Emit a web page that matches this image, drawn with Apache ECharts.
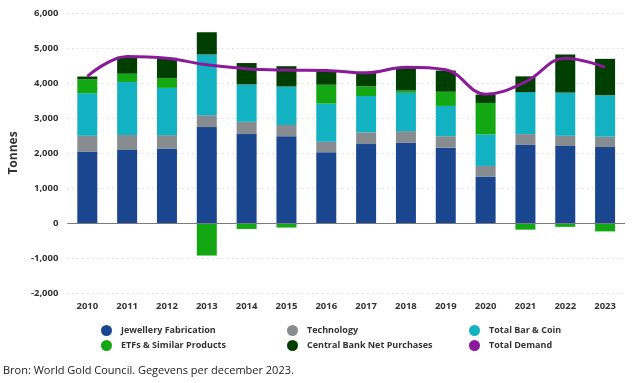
<!DOCTYPE html>
<html><head><meta charset="utf-8">
<script src="https://cdn.jsdelivr.net/npm/echarts@6/dist/echarts.min.js"></script>
<style>html,body{margin:0;padding:0;background:#fff;}#c{width:632px;height:383px;}</style>
</head><body><div id="c"></div>
<script>
const years = ['2010','2011','2012','2013','2014','2015','2016','2017','2018','2019','2020','2021','2022','2023'];
const jewellery = [2040, 2085, 2130, 2740, 2540, 2480, 2020, 2255, 2290, 2150, 1330, 2230, 2200, 2170];
const technology = [455, 430, 380, 340, 350, 320, 300, 333, 335, 330, 300, 310, 295, 295];
const barCoin = [1210, 1515, 1350, 1735, 1070, 1100, 1090, 1040, 1095, 865, 900, 1200, 1230, 1185];
const etfs = [400, 235, 280, -930, -170, -130, 540, 275, 65, 405, 900, -190, -110, -240];
const centralBank = [80, 490, 580, 635, 610, 580, 390, 405, 640, 605, 240, 450, 1090, 1040];
const totalDemand = [4190, 4760, 4710, 4520, 4410, 4370, 4360, 4290, 4450, 4380, 3680, 4030, 4710, 4455];
const yTicks = {min: -2000, max: 6000, interval: 1000};

const font = 'Open Sans';
const chart = echarts.init(document.getElementById('c'), null, {renderer: 'canvas'});
const bar = (name, data, color) => ({
  name, type: 'bar', stack: 'd', data, barWidth: 20,
  itemStyle: {color}, emphasis: {disabled: true}
});
const legendCommon = {
  orient: 'vertical', top: 325, itemWidth: 11, itemHeight: 11, itemGap: 4, padding: 0,
  icon: 'circle', textStyle: {fontFamily: font, fontWeight: 'bold', fontSize: 9, color: '#333', padding: [0,0,0,4]}
};
chart.setOption({
  animation: false,
  textStyle: {fontFamily: font},
  grid: {left: 62, right: 7, top: 13, bottom: 90},
  xAxis: {
    type: 'category', data: years,
    axisLine: {show: false}, axisTick: {show: false},
    axisLabel: {fontFamily: font, fontWeight: 'bold', fontSize: 9.5, color: '#333', margin: 8}
  },
  yAxis: {
    type: 'value', min: yTicks.min, max: yTicks.max, interval: yTicks.interval,
    name: 'Tonnes', nameLocation: 'middle', nameGap: 33, nameRotate: 90,
    nameTextStyle: {fontFamily: font, fontWeight: 'bold', fontSize: 12, color: '#333'},
    axisLine: {show: false}, axisTick: {show: false},
    axisLabel: {fontFamily: font, fontWeight: 'bold', fontSize: 9.5, color: '#333', margin: 9,
      formatter: v => v.toLocaleString('en-US')},
    splitLine: {lineStyle: {color: '#c8c8c8', type: [1, 4], width: 1}}
  },
  legend: [
    Object.assign({left: 101, data: ['Jewellery Fabrication', 'ETFs & Similar Products']}, legendCommon),
    Object.assign({left: 287, data: ['Technology', 'Central Bank Net Purchases']}, legendCommon),
    Object.assign({left: 469, data: ['Total Bar & Coin', 'Total Demand']}, legendCommon)
  ],
  graphic: [{
    type: 'text', left: 3, top: 365,
    style: {text: 'Bron: World Gold Council. Gegevens per december 2023.', fontFamily: font, fontSize: 11, fill: '#222'}
  }],
  series: [
    bar('Jewellery Fabrication', jewellery, '#1a468f'),
    bar('Technology', technology, '#868c90'),
    bar('Total Bar & Coin', barCoin, '#13b2c2'),
    bar('ETFs & Similar Products', etfs, '#13a813'),
    bar('Central Bank Net Purchases', centralBank, '#003f00'),
    {
      name: 'Total Demand', type: 'line', data: totalDemand, smooth: 0.4,
      showSymbol: false, symbol: 'circle', lineStyle: {color: '#8a1a9a', width: 3},
      itemStyle: {color: '#8a1a9a'}, z: 5,
      markLine: {silent: true, symbol: 'none', label: {show: false},
        lineStyle: {color: '#7a7a7a', type: 'solid', width: 1}, data: [{yAxis: 0}]}
    }
  ]
});
</script></body></html>
